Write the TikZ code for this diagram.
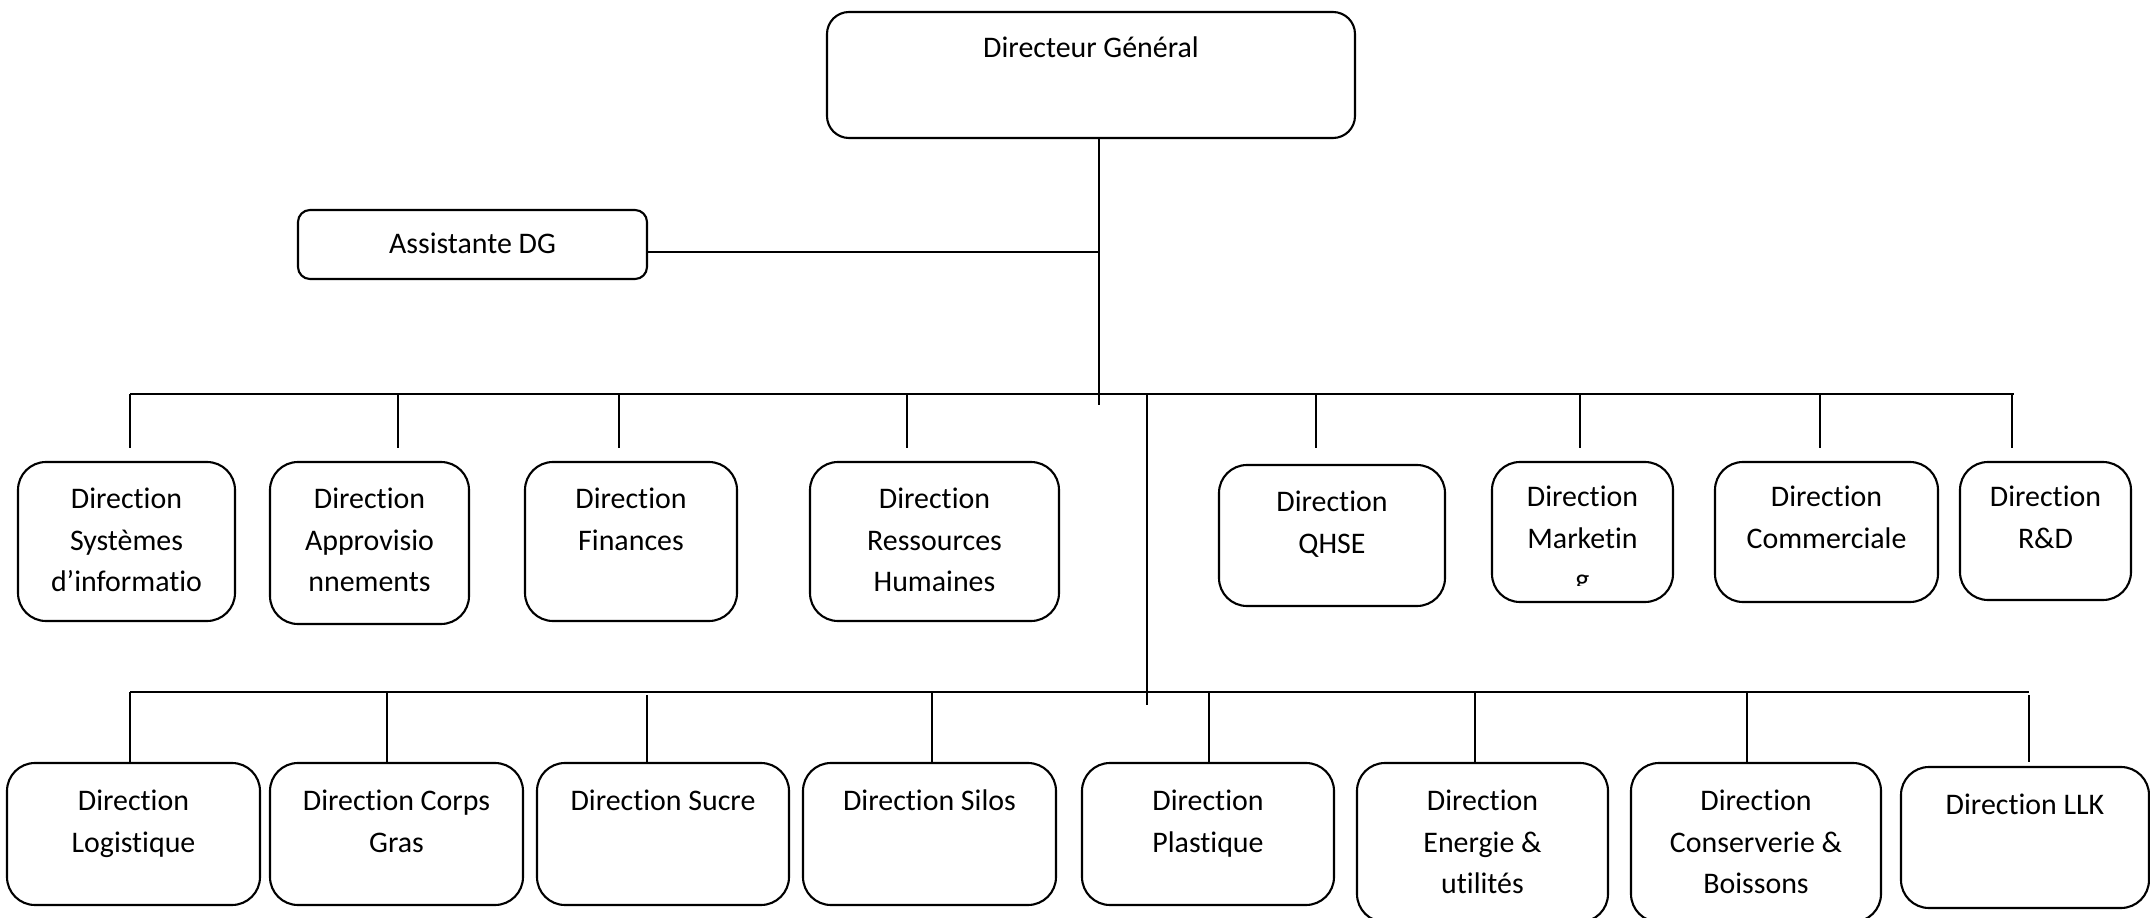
\documentclass[tikz,border=0pt]{standalone}
\usepackage{fontspec}
\setmainfont{Carlito}[Ligatures={NoCommon}]
\usetikzlibrary{fit}

\tikzset{
  orgbox/.style={draw, line width=0.6pt, inner sep=0pt, rounded corners=0.28cm},
  orgtext/.style={anchor=north, inner sep=0pt, align=center,
                  font=\fontsize{8.5pt}{11.9pt}\selectfont},
  bar/.style={line width=0.7pt},
  drop/.style={line width=0.45pt}
}

\begin{document}
\begin{tikzpicture}[x=0.01cm, y=-0.01cm]
\useasboundingbox (0,0) rectangle (2150,918);

% --- top level
\node[orgbox, rounded corners=0.22cm, fit={(827,12) (1355,138)}] (dg) {};
\node[orgtext] (dg-t) at ([yshift=-0.25cm]dg.north) {Directeur Général};

\node[orgbox, rounded corners=0.12cm, fit={(298,210) (647,279)}] (asst) {};
\node[orgtext] (asst-t) at ([yshift=-0.23cm]asst.north) {Assistante DG};

% --- first row of directions
\node[orgbox, fit={(18,462) (235,621)}] (si) {};
\node[orgtext] (si-t) at ([yshift=-0.26cm]si.north) {Direction\\Systèmes\\d’informatio};
\node[orgbox, fit={(270,462) (469,624)}] (appro) {};
\node[orgtext] (appro-t) at ([yshift=-0.26cm]appro.north) {Direction\\Approvisio\\nnements};
\node[orgbox, fit={(525,462) (737,621)}] (fin) {};
\node[orgtext] (fin-t) at ([yshift=-0.26cm]fin.north) {Direction\\Finances};
\node[orgbox, fit={(810,462) (1059,621)}] (rh) {};
\node[orgtext] (rh-t) at ([yshift=-0.26cm]rh.north) {Direction\\Ressources\\Humaines};
\node[orgbox, fit={(1219,465) (1445,606)}] (qhse) {};
\node[orgtext] (qhse-t) at ([yshift=-0.26cm]qhse.north) {Direction\\QHSE};
\node[orgbox, fit={(1492,462) (1673,602)}] (mkt) {};
\begin{scope}
  % the last line only shows its upper part inside the box
  \clip (1492,462) rectangle (1673,585);
  \node[orgtext] (mkt-t) at ([yshift=-0.24cm]mkt.north) {Direction\\Marketin\\g};
\end{scope}
\node[orgbox, fit={(1715,462) (1938,602)}] (com) {};
\node[orgtext] (com-t) at ([yshift=-0.24cm]com.north) {Direction\\Commerciale};
\node[orgbox, fit={(1960,462) (2131,600)}] (rd) {};
\node[orgtext] (rd-t) at ([yshift=-0.24cm]rd.north) {Direction\\R\&D};

% --- second row of directions
\node[orgbox, fit={(7,763) (260,905)}] (log) {};
\node[orgtext] (log-t) at ([yshift=-0.27cm]log.north) {Direction\\Logistique};
\node[orgbox, fit={(270,763) (523,905)}] (cg) {};
\node[orgtext] (cg-t) at ([yshift=-0.27cm]cg.north) {Direction Corps\\Gras};
\node[orgbox, fit={(537,763) (789,905)}] (sucre) {};
\node[orgtext] (sucre-t) at ([yshift=-0.27cm]sucre.north) {Direction Sucre};
\node[orgbox, fit={(803,763) (1056,905)}] (silos) {};
\node[orgtext] (silos-t) at ([yshift=-0.27cm]silos.north) {Direction Silos};
\node[orgbox, fit={(1082,763) (1334,905)}] (plast) {};
\node[orgtext] (plast-t) at ([yshift=-0.27cm]plast.north) {Direction\\Plastique};
\node[orgbox, fit={(1357,763) (1608,922)}] (energ) {};
\node[orgtext] (energ-t) at ([yshift=-0.27cm]energ.north) {Direction\\Energie \&\\utilités};
\node[orgbox, fit={(1631,763) (1881,922)}] (cons) {};
\node[orgtext] (cons-t) at ([yshift=-0.27cm]cons.north) {Direction\\Conserverie \&\\Boissons};
\node[orgbox, fit={(1901,767) (2149,908)}] (llk) {};
\node[orgtext] (llk-t) at ([yshift=-0.27cm]llk.north) {Direction LLK};

% --- trunk and branches
\coordinate (trunk) at (1099,405);
\coordinate (aj) at (1099,252);
\coordinate (tbl) at (130,394);
\coordinate (tbr) at (2014,394);
\coordinate (t2) at (1147,394);
\coordinate (t2end) at (1147,705);
\coordinate (bbl) at (130,692);
\coordinate (bbr) at (2029,692);

\draw[bar] (trunk |- dg.south) -- (trunk);
\draw[bar] (aj -| asst.east) -- (aj);
\draw[bar] (tbl) -- (tbr);
\draw[bar] (t2) -- (t2end);
\draw[bar] (bbl) -- (bbr);

% drops to the first row (free ends above the boxes)
\coordinate (d1) at (130,448);
\coordinate (d2) at (398,448);
\coordinate (d3) at (619,448);
\coordinate (d4) at (907,448);
\coordinate (d5) at (1316,448);
\coordinate (d6) at (1580,448);
\coordinate (d7) at (1820,448);
\coordinate (d8) at (2012,448);
\foreach \d in {d1,d2,d3,d4,d5,d6,d7,d8}
  \draw[drop] (\d |- tbl) -- (\d);

% drops to the second row
\coordinate (e1) at (130,695);
\coordinate (e2) at (387,695);
\coordinate (e3) at (647,695);
\coordinate (e4) at (932,695);
\coordinate (e5) at (1209,695);
\coordinate (e6) at (1475,695);
\coordinate (e7) at (1747,695);
\coordinate (e8) at (2029,695);
\draw[drop] (e1 |- bbl) -- (e1 |- log.north);
\draw[drop] (e2 |- bbl) -- (e2 |- cg.north);
\draw[drop] (e3) -- (e3 |- sucre.north);
\draw[drop] (e4 |- bbl) -- (e4 |- silos.north);
\draw[drop] (e5 |- bbl) -- (e5 |- plast.north);
\draw[drop] (e6 |- bbl) -- (e6 |- energ.north);
\draw[drop] (e7 |- bbl) -- (e7 |- cons.north);
\draw[drop] (e8) -- ([yshift=0.04cm]e8 |- llk.north);
\end{tikzpicture}
\end{document}
